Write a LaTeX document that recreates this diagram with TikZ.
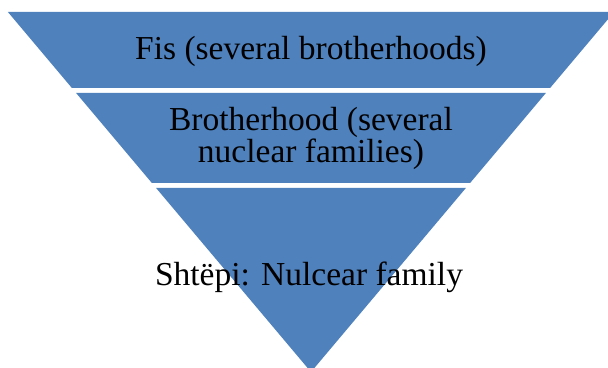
\documentclass[tikz,border=0pt]{standalone}
\usepackage{fontspec}
\setmainfont{Liberation Serif}
\definecolor{bandblue}{HTML}{4F81BD}
\begin{document}
\begin{tikzpicture}[x=1pt,y=1pt,
  band/.style={fill=bandblue,draw=none},
  label/.style={font=\fontsize{33.5}{32}\selectfont,text=black,inner sep=0pt,align=center}]
\useasboundingbox (0,0) rectangle (608,367);
\clip (0,0) rectangle (608,367);
% three stacked bands of an inverted pyramid, apex below the lower edge
\fill[band] (7.9,355) -- (614.1,355) -- (550.1,279) -- (71.9,279) -- cycle;
\fill[band] (76.1,274) -- (545.9,274) -- (470.1,184) -- (151.9,184) -- cycle;
\fill[band] (156.1,179) -- (465.9,179) -- (311,-5) -- cycle;
% band labels
\node[label,anchor=base] (fis) at (311,307) {Fis (several brotherhoods)};
\node[label] (brotherhood) at (311,228.5) {Brotherhood (several\\nuclear families)};
\node[label,anchor=base] (shtepi) at (309,81) {Shtëpi: Nulcear family};
\end{tikzpicture}
\end{document}
